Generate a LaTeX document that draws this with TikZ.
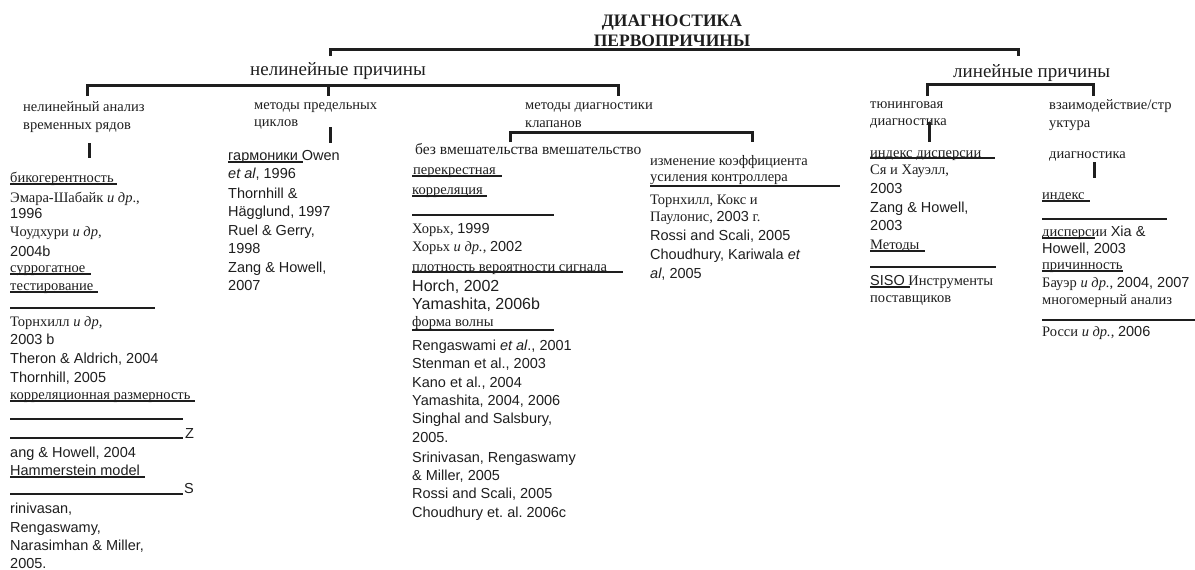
\documentclass[tikz,border=0pt]{standalone}
\usepackage{fontspec}
\setmainfont{Liberation Serif}
\newfontfamily\arialf{Liberation Sans}
\newcommand{\lat}[1]{{\arialf #1}}
\definecolor{ink}{HTML}{1E1E1E}
\frenchspacing

\begin{document}
\begin{tikzpicture}[x=1pt,y=-1pt,
        every node/.style={inner sep=0pt,anchor=base west,text=ink,font=\fontsize{14.5}{16}\selectfont},
        bigtxt/.style={font=\fontsize{19}{21}\selectfont},
        largetxt/.style={font=\fontsize{16}{18}\selectfont},
        titletxt/.style={anchor=base,font=\bfseries\fontsize{17.5}{20}\selectfont},
        brak/.style={line width=3pt,draw=ink},
        uline/.style={line width=1.4pt,draw=ink}]
    \useasboundingbox (0,0) rectangle (1195,570);
    %Title
        \node[titletxt] (title1) at (672,26) {ДИАГНОСТИКА};
        \node[titletxt] (title2) at (672,46) {ПЕРВОПРИЧИНЫ};
        \node[bigtxt] (nonlin) at (250,75) {нелинейные причины};
        \node[bigtxt] (lin) at (953,77) {линейные причины};
    %Brackets
        \draw[brak] (330,56) -- (330,49) -- (1018,49) -- (1018,56);
        \draw[brak] (87,96) -- (87,85) -- (618,85) -- (618,96);
        \draw[brak] (328,85) -- (328,96);
        \draw[brak] (927,96) -- (927,84) -- (1093,84) -- (1093,96);
        \draw[brak] (510,142) -- (510,132) -- (752,132) -- (752,142);
        \draw[brak] (89,143) -- (89,158);
        \draw[brak] (330,127) -- (330,143);
        \draw[brak] (929,122) -- (929,142);
        \draw[brak] (1094,162) -- (1094,178);
    %Second level
        \node (ts1) at (23,111) {нелинейный анализ};
        \node (ts2) at (23,129) {временных рядов};
        \node (lc1) at (254,109) {методы предельных};
        \node (lc2) at (254,126) {циклов};
        \node (vd1) at (525,109) {методы диагностики};
        \node (vd2) at (525,127) {клапанов};
        \node (tu1) at (870,108) {тюнинговая};
        \node (tu2) at (870,125) {диагностика};
        \node (in1) at (1049,109) {взаимодействие/стр};
        \node (in2) at (1049,127) {уктура};
        \node (in3) at (1049,158) {диагностика};
    %Time series column
        \node (a1) at (10,182) {бикогерентность};
        \draw[uline] (10,184) -- (117,184);
        \node (a2) at (10,202) {Эмара-Шабайк \emph{и др}.,};
        \node (a3) at (10,218) {\lat{1996}};
        \node (a4) at (10,236) {Чоудхури \emph{и др},};
        \node (a5) at (10,256) {\lat{2004b}};
        \node (a6) at (10,272) {суррогатное};
        \draw[uline] (10,274) -- (91,274);
        \node (a7) at (10,290) {тестирование};
        \draw[uline] (10,292) -- (98,292);
        \draw[uline] (10,308) -- (155,308);
        \node (a8) at (10,326) {Торнхилл \emph{и др},};
        \node (a9) at (10,344) {\lat{2003 b}};
        \node (a10) at (10,363) {\lat{Theron \& Aldrich, 2004}};
        \node (a11) at (10,382) {\lat{Thornhill, 2005}};
        \node (a12) at (10,399) {корреляционная размерность};
        \draw[uline] (10,401) -- (195,401);
        \draw[uline] (10,419) -- (183,419);
        \draw[uline] (10,438) -- (183,438);
        \node (a13) at (185,438) {\lat{Z}};
        \node (a14) at (10,457) {\lat{ang \& Howell, 2004}};
        \node (a15) at (10,475) {\lat{Hammerstein model}};
        \draw[uline] (10,477) -- (145,477);
        \draw[uline] (10,494) -- (183,494);
        \node (a16) at (184,493) {\lat{S}};
        \node (a17) at (10,513) {\lat{rinivasan,}};
        \node (a18) at (10,532) {\lat{Rengaswamy,}};
        \node (a19) at (10,550) {\lat{Narasimhan \& Miller,}};
        \node (a20) at (10,568) {\lat{2005.}};
    %Limit cycle column
        \node (b1) at (228,160) {\lat{гармоники Owen}};
        \draw[uline] (228,162) -- (303,162);
        \node (b2) at (228,178) {\lat{\textit{et al}, 1996}};
        \node (b3) at (228,198) {\lat{Thornhill \&}};
        \node (b4) at (228,216) {\lat{Hägglund, 1997}};
        \node (b5) at (228,235) {\lat{Ruel \& Gerry,}};
        \node (b6) at (228,253) {\lat{1998}};
        \node (b7) at (228,272) {\lat{Zang \& Howell,}};
        \node (b8) at (228,290) {\lat{2007}};
    %Valve column
        \node[font=\fontsize{15.5}{17}\selectfont] (c1) at (415,154) {без вмешательства вмешательство};
        \node (c2) at (413,174) {перекрестная};
        \draw[uline] (412,176) -- (502,176);
        \node (c3) at (412,194) {корреляция};
        \draw[uline] (412,196) -- (487,196);
        \draw[uline] (412,215) -- (554,215);
        \node (c4) at (412,233) {Хорьх, \lat{1999}};
        \node (c5) at (412,251) {Хорьх \emph{и др.}, \lat{2002}};
        \node (c6) at (412,271) {плотность вероятности сигнала};
        \draw[uline] (412,272) -- (623,272);
        \node[largetxt] (c7) at (412,291) {\lat{Horch, 2002}};
        \node[largetxt] (c8) at (412,309) {\lat{Yamashita, 2006b}};
        \node (c9) at (412,326) {форма волны};
        \draw[uline] (412,330) -- (554,330);
        \node (c10) at (412,350) {\lat{Rengaswami \textit{et al}., 2001}};
        \node (c11) at (412,368) {\lat{Stenman et al., 2003}};
        \node (c12) at (412,387) {\lat{Kano et al., 2004}};
        \node (c13) at (412,405) {\lat{Yamashita, 2004, 2006}};
        \node (c14) at (412,423) {\lat{Singhal and Salsbury,}};
        \node (c15) at (412,442) {\lat{2005.}};
        \node (c16) at (412,462) {\lat{Srinivasan, Rengaswamy}};
        \node (c17) at (412,480) {\lat{\& Miller, 2005}};
        \node (c18) at (412,498) {\lat{Rossi and Scali, 2005}};
        \node (c19) at (412,517) {\lat{Choudhury et. al. 2006c}};
    %Controller gain column
        \node (d1) at (650,165) {изменение коэффициента};
        \node (d2) at (650,181) {усиления контроллера};
        \draw[uline] (650,186) -- (840,186);
        \node (d3) at (650,204) {Торнхилл, Кокс и};
        \node (d4) at (650,221) {Паулонис, \lat{2003} г.};
        \node (d5) at (650,240) {\lat{Rossi and Scali, 2005}};
        \node (d6) at (650,259) {\lat{Choudhury, Kariwala \textit{et}}};
        \node (d7) at (650,278) {\lat{\textit{al}, 2005}};
    %Tuning column
        \node (e1) at (870,157) {индекс дисперсии};
        \draw[uline] (870,158) -- (995,158);
        \node (e2) at (870,174) {Ся и Хауэлл,};
        \node (e3) at (870,193) {\lat{2003}};
        \node (e4) at (870,212) {\lat{Zang \& Howell,}};
        \node (e5) at (870,230) {\lat{2003}};
        \node (e6) at (870,249) {Методы};
        \draw[uline] (870,251) -- (925,251);
        \draw[uline] (870,267) -- (996,267);
        \node (e7) at (870,285) {\lat{SISO} Инструменты};
        \draw[uline] (870,287) -- (910,287);
        \node (e8) at (870,302) {поставщиков};
    %Interaction column
        \node (f1) at (1042,199) {индекс};
        \draw[uline] (1042,201) -- (1090,201);
        \draw[uline] (1042,219) -- (1167,219);
        \node (f2) at (1042,236) {дисперсии \lat{Xia \&}};
        \draw[uline] (1042,238) -- (1095,238);
        \node (f3) at (1042,253) {\lat{Howell, 2003}};
        \node (f4) at (1042,269) {причинность};
        \draw[uline] (1042,271) -- (1123,271);
        \node (f5) at (1042,287) {Бауэр \emph{и др.}, \lat{2004, 2007}};
        \node (f6) at (1042,304) {многомерный анализ};
        \draw[uline] (1042,320) -- (1195,320);
        \node (f7) at (1042,336) {Росси \emph{и др.}, \lat{2006}};
\end{tikzpicture}
\end{document}
